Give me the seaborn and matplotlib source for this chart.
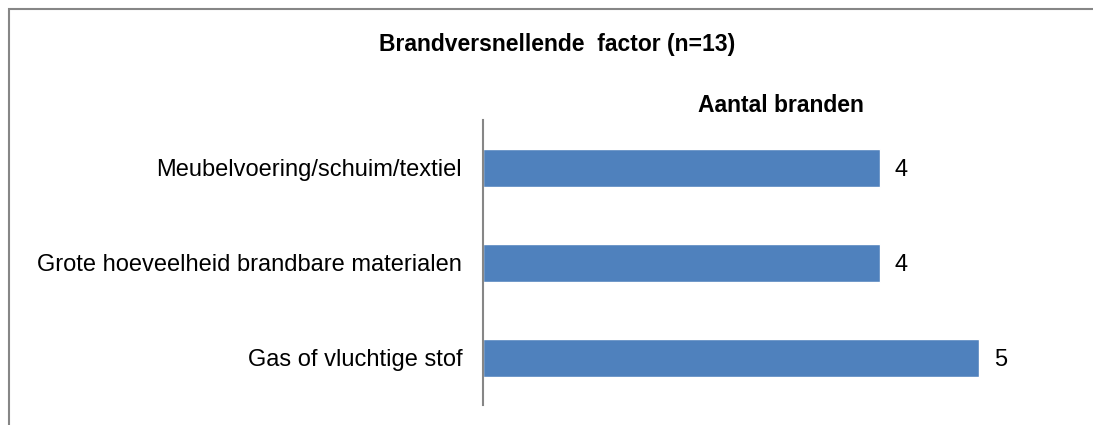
import matplotlib
matplotlib.use("Agg")
import matplotlib.pyplot as plt
import seaborn as sns
import pandas as pd
from matplotlib.patches import Rectangle

categories = ["Meubelvoering/schuim/textiel", "Grote hoeveelheid brandbare materialen", "Gas of vluchtige stof"]
values = [4, 4, 5]
title = "Brandversnellende  factor (n=13)"
axis_title = "Aantal branden"

sns.set_theme(style="white")
plt.rcParams['font.family'] = ['Liberation Sans', 'DejaVu Sans']
plt.rcParams['text.color'] = 'black'

df = pd.DataFrame({"cat": categories, "val": values})

fig = plt.figure(figsize=(10.93, 4.25), dpi=100)
ax = fig.add_axes([483/1093, 1-405/425, (1078-483)/1093, (405-120)/425])

sns.barplot(data=df, y="cat", x="val", orient="h", color="#4F81BD", saturation=1,
            width=0.4, ax=ax)

ax.set_xlim(0, 6)
ax.set_ylim(2.5, -0.5)
ax.set_xlabel("")
ax.set_ylabel("")
ax.set_xticks([])
for s in ["top", "right", "bottom"]:
    ax.spines[s].set_visible(False)
ax.spines["left"].set_color("#868686")
ax.spines["left"].set_linewidth(1.5)
ax.tick_params(axis="y", length=0, pad=15, labelsize=17, labelcolor="black")

for i, v in enumerate(values):
    ax.text(v + 0.15, i, str(v), va="center_baseline", ha="left", fontsize=17, color="black")

fig.text(557/1093, 1-45/425, title, ha="center", va="center", fontsize=16.5,
         fontweight="bold", color="black")
ax.text(0.5, 1.0 + 15/285, axis_title, transform=ax.transAxes, ha="center", va="center",
        fontsize=16.5, fontweight="bold", color="black")

fig.patches.append(Rectangle((9/1093, -0.1), 1.2, 1-9/425+0.1, transform=fig.transFigure,
                             fill=False, edgecolor="#868686", linewidth=1.5))

fig.savefig("out.png", dpi=100)
